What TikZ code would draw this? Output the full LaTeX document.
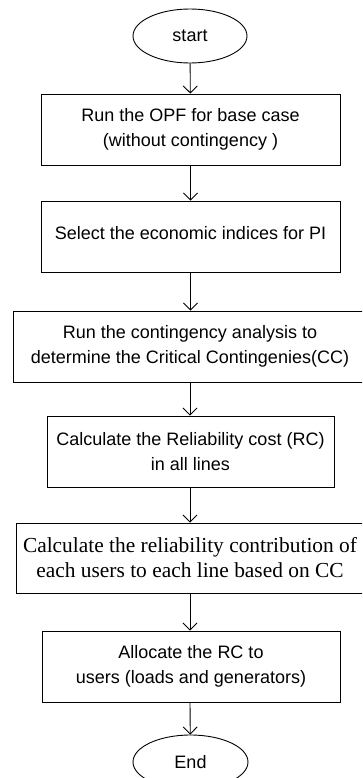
\documentclass[tikz,border=0pt]{standalone}
\usepackage{fontspec}
\setmainfont{Liberation Serif}
\newfontfamily\sansf{Liberation Sans}
\usetikzlibrary{arrows.meta,shapes.geometric}
\begin{document}
\begin{tikzpicture}[x=1pt,y=-1pt,
  box/.style={draw,line width=0.9pt,inner sep=0pt,align=center,font=\sansf\fontsize{18}{25}\selectfont},
  oval/.style={draw,ellipse,line width=0.9pt,inner sep=0pt,font=\sansf\fontsize{18}{25}\selectfont},
  arr/.style={-{Straight Barb[length=7pt,width=14pt,line width=0.9pt]},line width=0.9pt}]
\useasboundingbox (0,0) rectangle (362,778);
\clip (0,0) rectangle (362,778);
\node[oval,minimum width=114pt,minimum height=54pt] (s) at (190,36) {start};
\node[box,minimum width=299pt,minimum height=71pt] (b1) at (190.5,129.5) {Run the OPF for base case\\(without contingency )};
\node[box,minimum width=299pt,minimum height=71pt] (b2) at (190.5,236.5) {};
\node[font=\sansf\fontsize{18}{25}\selectfont] (t2) at (190.5,233) {Select the economic indices for PI};
\node[box,minimum width=354pt,minimum height=71pt] (b3) at (190,346.5) {Run the contingency analysis to\\determine the Critical Contingenies(CC)};
\node[box,minimum width=287pt,minimum height=71pt] (b4) at (190.5,451.5) {Calculate the Reliability cost (RC)\\in all lines};
\node[box,font=\fontsize{21.4}{25}\selectfont,minimum width=348pt,minimum height=70pt] (b5) at (190,558) {Calculate the reliability contribution of\\each users to each line based on CC};
\node[box,minimum width=298pt,minimum height=71pt] (b6) at (191,666.5) {Allocate the RC to\\users (loads and generators)};
\node[oval,minimum width=115pt,minimum height=54pt] (e) at (190.5,762) {End};
\draw[arr] (s) -- (b1);
\draw[arr] (b1) -- (b2);
\draw[arr] (b2) -- (b2 |- b3.north);
\draw[arr] (b3) -- (b3 |- b4.north);
\draw[arr] (b4.south -| b3) -- (b5);
\draw[arr] (b5) -- (b5 |- b6.north);
\draw[arr] (b6.south -| b5) -- (e);
\end{tikzpicture}
\end{document}
